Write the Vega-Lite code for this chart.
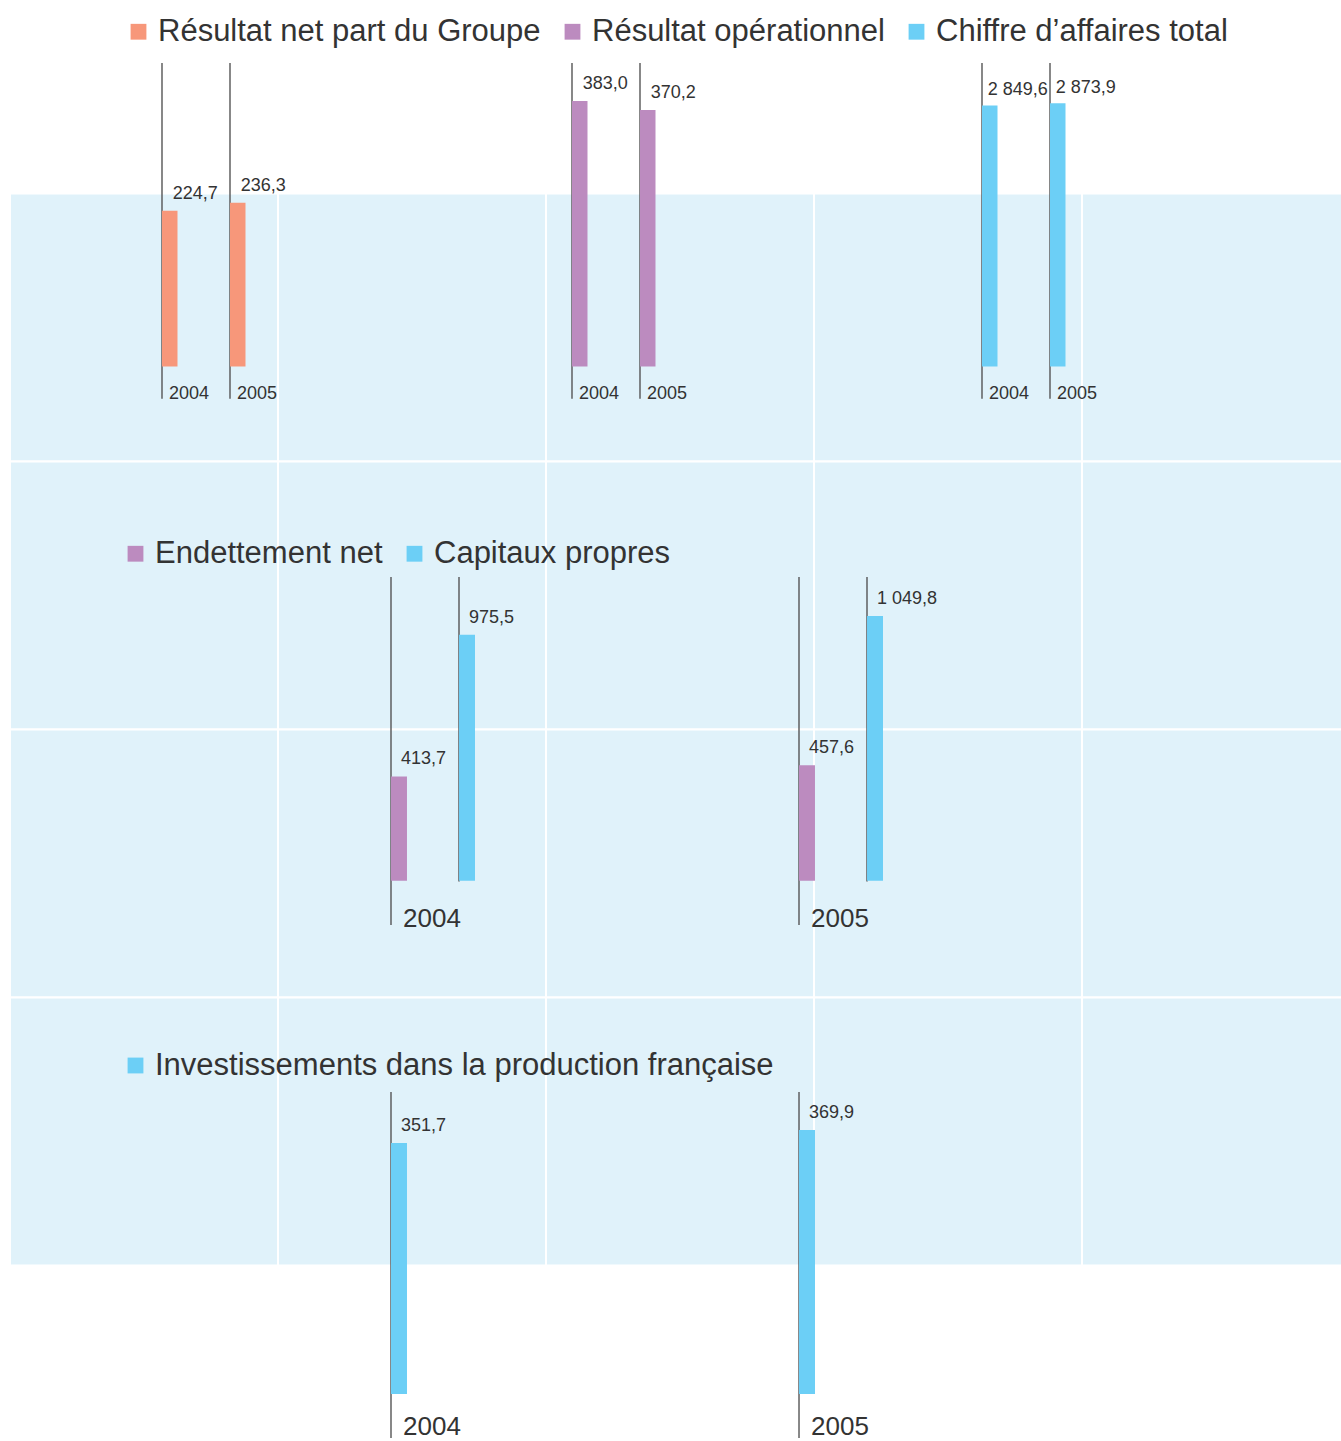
{
  "$schema": "https://vega.github.io/schema/vega-lite/v6.json",
  "width": 1341,
  "height": 1441,
  "autosize": "none",
  "padding": 0,
  "background": "#FFFFFF",
  "config": {
    "view": {"stroke": null},
    "font": "Liberation Sans",
    "locale": {"number": {"decimal": ",", "thousands": "\u00a0", "grouping": [3], "currency": ["", "\u00a0€"]}},
    "legend": {
      "orient": "none",
      "direction": "horizontal",
      "symbolType": "square",
      "symbolSize": 250,
      "symbolStrokeWidth": 0,
      "labelFontSize": 31,
      "labelFont": "Liberation Sans",
      "labelColor": "#333333",
      "labelOffset": 4,
      "columnPadding": 16,
      "padding": 0,
      "labelLimit": 1000
    }
  },
  "datasets": {
    "grid": [
      {"col": 1, "row": 1}, {"col": 2, "row": 1}, {"col": 3, "row": 1}, {"col": 4, "row": 1}, {"col": 5, "row": 1},
      {"col": 1, "row": 2}, {"col": 2, "row": 2}, {"col": 3, "row": 2}, {"col": 4, "row": 2}, {"col": 5, "row": 2},
      {"col": 1, "row": 3}, {"col": 2, "row": 3}, {"col": 3, "row": 3}, {"col": 4, "row": 3}, {"col": 5, "row": 3},
      {"col": 1, "row": 4}, {"col": 2, "row": 4}, {"col": 3, "row": 4}, {"col": 4, "row": 4}, {"col": 5, "row": 4}
    ],
    "s1": [
      {"metric": "Résultat net part du Groupe", "year": "2004", "value": 224.7},
      {"metric": "Résultat net part du Groupe", "year": "2005", "value": 236.3},
      {"metric": "Résultat opérationnel", "year": "2004", "value": 383.0},
      {"metric": "Résultat opérationnel", "year": "2005", "value": 370.2},
      {"metric": "Chiffre d’affaires total", "year": "2004", "value": 2849.6},
      {"metric": "Chiffre d’affaires total", "year": "2005", "value": 2873.9}
    ],
    "s2": [
      {"year": "2004", "metric": "Endettement net", "value": 413.7},
      {"year": "2004", "metric": "Capitaux propres", "value": 975.5},
      {"year": "2005", "metric": "Endettement net", "value": 457.6},
      {"year": "2005", "metric": "Capitaux propres", "value": 1049.8}
    ],
    "s3": [
      {"year": "2004", "metric": "Investissements dans la production française", "value": 351.7},
      {"year": "2005", "metric": "Investissements dans la production française", "value": 369.9}
    ]
  },
  "layer": [
    {
      "data": {"name": "grid"},
      "mark": {"type": "rect", "fill": "#E0F2FA", "stroke": "#FFFFFF", "strokeWidth": 2},
      "encoding": {
        "x": {"field": "col", "type": "ordinal", "scale": {"type": "band", "range": [10, 1350], "paddingInner": 0, "paddingOuter": 0}, "axis": null},
        "y": {"field": "row", "type": "ordinal", "scale": {"type": "band", "range": [193.5, 1265.5], "paddingInner": 0, "paddingOuter": 0}, "axis": null}
      }
    },
    {
      "data": {"name": "s1"},
      "resolve": {"scale": {"y": "independent", "xOffset": "independent"}},
      "layer": [
        {
          "layer": [
            {
              "mark": {"type": "rule", "color": "#555555", "strokeWidth": 1.4},
              "encoding": {
                "x": {"field": "metric", "type": "nominal", "scale": {"type": "band", "domain": ["Résultat net part du Groupe", "Résultat opérationnel", "Chiffre d’affaires total"], "range": [162, 1392], "paddingInner": 0, "paddingOuter": 0}, "axis": null},
                "xOffset": {"field": "year", "type": "nominal", "scale": {"type": "band", "domain": ["2004", "2005"], "range": [0, 68], "paddingInner": 1, "paddingOuter": 0, "align": 0}},
                "y": {"datum": 0, "type": "quantitative", "scale": {"domain": [0, 1], "range": [398.7, 63], "nice": false}, "axis": null},
                "y2": {"datum": 1}
              }
            },
            {
              "mark": {"type": "text", "align": "left", "baseline": "alphabetic", "dx": 7, "fontSize": 18, "color": "#333333"},
              "encoding": {
                "x": {"field": "metric", "type": "nominal", "scale": {"type": "band", "domain": ["Résultat net part du Groupe", "Résultat opérationnel", "Chiffre d’affaires total"], "range": [162, 1392], "paddingInner": 0, "paddingOuter": 0}, "axis": null},
                "xOffset": {"field": "year", "type": "nominal", "scale": {"type": "band", "domain": ["2004", "2005"], "range": [0, 68], "paddingInner": 1, "paddingOuter": 0, "align": 0}},
                "y": {"datum": 0, "type": "quantitative", "scale": {"domain": [0, 1], "range": [398.7, 63], "nice": false}, "axis": null},
                "text": {"field": "year", "type": "nominal"}
              }
            }
          ]
        },
        {
          "transform": [{"filter": {"field": "metric", "oneOf": ["Résultat net part du Groupe", "Résultat opérationnel"]}}],
          "layer": [
            {
              "mark": {"type": "bar"},
              "encoding": {
                "x": {"field": "metric", "type": "nominal", "scale": {"type": "band", "domain": ["Résultat net part du Groupe", "Résultat opérationnel", "Chiffre d’affaires total"], "range": [162, 1392], "paddingInner": 0, "paddingOuter": 0}, "axis": null},
                "xOffset": {"field": "year", "type": "nominal", "scale": {"type": "band", "domain": ["2004", "2005"], "range": [0, 83.5], "paddingInner": 0.772, "paddingOuter": 0, "align": 0}},
                "y": {"field": "value", "type": "quantitative", "scale": {"domain": [0, 383], "range": [366.5, 101.1], "nice": false, "zero": true}, "axis": null},
                "color": {"field": "metric", "type": "nominal", "scale": {"domain": ["Résultat net part du Groupe", "Résultat opérationnel", "Chiffre d’affaires total"], "range": ["#F7977A", "#BC8BBF", "#6CCFF6"]}, "legend": {"title": null, "legendX": 123, "legendY": 16}}
              }
            },
            {
              "mark": {"type": "text", "align": "left", "baseline": "alphabetic", "dx": 3, "dy": -12, "fontSize": 18, "color": "#333333"},
              "encoding": {
                "x": {"field": "metric", "type": "nominal", "scale": {"type": "band", "domain": ["Résultat net part du Groupe", "Résultat opérationnel", "Chiffre d’affaires total"], "range": [162, 1392], "paddingInner": 0, "paddingOuter": 0}, "axis": null},
                "xOffset": {"field": "year", "type": "nominal", "scale": {"type": "band", "domain": ["2004", "2005"], "range": [0, 83.5], "paddingInner": 0.772, "paddingOuter": 0, "align": 0}},
                "y": {"field": "value", "type": "quantitative", "scale": {"domain": [0, 383], "range": [366.5, 101.1], "nice": false, "zero": true}, "axis": null},
                "text": {"field": "value", "type": "quantitative", "format": ",.1f"}
              }
            }
          ]
        },
        {
          "transform": [{"filter": {"field": "metric", "equal": "Chiffre d’affaires total"}}],
          "layer": [
            {
              "mark": {"type": "bar"},
              "encoding": {
                "x": {"field": "metric", "type": "nominal", "scale": {"type": "band", "domain": ["Résultat net part du Groupe", "Résultat opérationnel", "Chiffre d’affaires total"], "range": [162, 1392], "paddingInner": 0, "paddingOuter": 0}, "axis": null},
                "xOffset": {"field": "year", "type": "nominal", "scale": {"type": "band", "domain": ["2004", "2005"], "range": [0, 83.5], "paddingInner": 0.772, "paddingOuter": 0, "align": 0}},
                "y": {"field": "value", "type": "quantitative", "scale": {"domain": [0, 2873.9], "range": [366.5, 103.2], "nice": false, "zero": true}, "axis": null},
                "color": {"field": "metric", "type": "nominal", "scale": {"domain": ["Résultat net part du Groupe", "Résultat opérationnel", "Chiffre d’affaires total"], "range": ["#F7977A", "#BC8BBF", "#6CCFF6"]}, "legend": {"title": null, "legendX": 123, "legendY": 16}}
              }
            },
            {
              "mark": {"type": "text", "align": "left", "baseline": "alphabetic", "dx": -2, "dy": -10, "fontSize": 18, "color": "#333333"},
              "encoding": {
                "x": {"field": "metric", "type": "nominal", "scale": {"type": "band", "domain": ["Résultat net part du Groupe", "Résultat opérationnel", "Chiffre d’affaires total"], "range": [162, 1392], "paddingInner": 0, "paddingOuter": 0}, "axis": null},
                "xOffset": {"field": "year", "type": "nominal", "scale": {"type": "band", "domain": ["2004", "2005"], "range": [0, 83.5], "paddingInner": 0.772, "paddingOuter": 0, "align": 0}},
                "y": {"field": "value", "type": "quantitative", "scale": {"domain": [0, 2873.9], "range": [366.5, 103.2], "nice": false, "zero": true}, "axis": null},
                "text": {"field": "value", "type": "quantitative", "format": ",.1f"}
              }
            }
          ]
        }
      ]
    },
    {
      "data": {"name": "s2"},
      "resolve": {"scale": {"y": "independent", "xOffset": "independent"}},
      "layer": [
        {
          "layer": [
            {
              "transform": [{"filter": {"field": "metric", "equal": "Endettement net"}}],
              "mark": {"type": "rule", "color": "#555555", "strokeWidth": 1.4},
              "encoding": {
                "x": {"field": "year", "type": "nominal", "scale": {"type": "band", "domain": ["2004", "2005"], "range": [391, 1207], "paddingInner": 0, "paddingOuter": 0}, "axis": null},
                "xOffset": {"field": "metric", "type": "nominal", "scale": {"type": "band", "domain": ["Endettement net", "Capitaux propres"], "range": [0, 68], "paddingInner": 1, "paddingOuter": 0, "align": 0}},
                "y": {"datum": -1, "type": "quantitative", "scale": {"domain": [-1, 7], "range": [925, 577], "nice": false, "zero": false}, "axis": null},
                "y2": {"datum": 7}
              }
            },
            {
              "transform": [{"filter": {"field": "metric", "equal": "Capitaux propres"}}],
              "mark": {"type": "rule", "color": "#555555", "strokeWidth": 1.4},
              "encoding": {
                "x": {"field": "year", "type": "nominal", "scale": {"type": "band", "domain": ["2004", "2005"], "range": [391, 1207], "paddingInner": 0, "paddingOuter": 0}, "axis": null},
                "xOffset": {"field": "metric", "type": "nominal", "scale": {"type": "band", "domain": ["Endettement net", "Capitaux propres"], "range": [0, 68], "paddingInner": 1, "paddingOuter": 0, "align": 0}},
                "y": {"datum": 0, "type": "quantitative", "scale": {"domain": [-1, 7], "range": [925, 577], "nice": false, "zero": false}, "axis": null},
                "y2": {"datum": 7}
              }
            },
            {
              "transform": [{"filter": {"field": "metric", "equal": "Endettement net"}}],
              "mark": {"type": "text", "align": "left", "baseline": "alphabetic", "dx": 12, "dy": 1.5, "fontSize": 26, "color": "#333333"},
              "encoding": {
                "x": {"field": "year", "type": "nominal", "scale": {"type": "band", "domain": ["2004", "2005"], "range": [391, 1207], "paddingInner": 0, "paddingOuter": 0}, "axis": null},
                "xOffset": {"field": "metric", "type": "nominal", "scale": {"type": "band", "domain": ["Endettement net", "Capitaux propres"], "range": [0, 68], "paddingInner": 1, "paddingOuter": 0, "align": 0}},
                "y": {"datum": -1, "type": "quantitative", "scale": {"domain": [-1, 7], "range": [925, 577], "nice": false, "zero": false}, "axis": null},
                "text": {"field": "year", "type": "nominal"}
              }
            }
          ]
        },
        {
          "layer": [
            {
              "mark": {"type": "bar"},
              "encoding": {
                "x": {"field": "year", "type": "nominal", "scale": {"type": "band", "domain": ["2004", "2005"], "range": [391, 1207], "paddingInner": 0, "paddingOuter": 0}, "axis": null},
                "xOffset": {"field": "metric", "type": "nominal", "scale": {"type": "band", "domain": ["Endettement net", "Capitaux propres"], "range": [0, 84], "paddingInner": 0.765, "paddingOuter": 0, "align": 0}},
                "y": {"field": "value", "type": "quantitative", "scale": {"domain": [0, 1049.8], "range": [880.7, 616], "nice": false, "zero": true}, "axis": null},
                "color": {"field": "metric", "type": "nominal", "scale": {"domain": ["Endettement net", "Capitaux propres"], "range": ["#BC8BBF", "#6CCFF6"]}, "legend": {"title": null, "legendX": 120, "legendY": 538}}
              }
            },
            {
              "mark": {"type": "text", "align": "left", "baseline": "alphabetic", "dx": 2, "dy": -12, "fontSize": 18, "color": "#333333"},
              "encoding": {
                "x": {"field": "year", "type": "nominal", "scale": {"type": "band", "domain": ["2004", "2005"], "range": [391, 1207], "paddingInner": 0, "paddingOuter": 0}, "axis": null},
                "xOffset": {"field": "metric", "type": "nominal", "scale": {"type": "band", "domain": ["Endettement net", "Capitaux propres"], "range": [0, 84], "paddingInner": 0.765, "paddingOuter": 0, "align": 0}},
                "y": {"field": "value", "type": "quantitative", "scale": {"domain": [0, 1049.8], "range": [880.7, 616], "nice": false, "zero": true}, "axis": null},
                "text": {"field": "value", "type": "quantitative", "format": ",.1f"}
              }
            }
          ]
        }
      ]
    },
    {
      "data": {"name": "s3"},
      "resolve": {"scale": {"y": "independent"}},
      "layer": [
        {
          "layer": [
            {
              "mark": {"type": "rule", "color": "#555555", "strokeWidth": 1.4},
              "encoding": {
                "x": {"field": "year", "type": "nominal", "bandPosition": 0, "scale": {"type": "band", "domain": ["2004", "2005"], "range": [391, 815], "paddingInner": 0.9608, "paddingOuter": 0, "align": 0}, "axis": null},
                "y": {"datum": 0, "type": "quantitative", "scale": {"domain": [0, 1], "range": [1438, 1092], "nice": false}, "axis": null},
                "y2": {"datum": 1}
              }
            },
            {
              "mark": {"type": "text", "align": "left", "baseline": "alphabetic", "dx": 12, "dy": -3, "fontSize": 26, "color": "#333333"},
              "encoding": {
                "x": {"field": "year", "type": "nominal", "bandPosition": 0, "scale": {"type": "band", "domain": ["2004", "2005"], "range": [391, 815], "paddingInner": 0.9608, "paddingOuter": 0, "align": 0}, "axis": null},
                "y": {"datum": 0, "type": "quantitative", "scale": {"domain": [0, 1], "range": [1438, 1092], "nice": false}, "axis": null},
                "text": {"field": "year", "type": "nominal"}
              }
            }
          ]
        },
        {
          "layer": [
            {
              "mark": {"type": "bar"},
              "encoding": {
                "x": {"field": "year", "type": "nominal", "scale": {"type": "band", "domain": ["2004", "2005"], "range": [391, 815], "paddingInner": 0.9608, "paddingOuter": 0, "align": 0}, "axis": null},
                "y": {"field": "value", "type": "quantitative", "scale": {"domain": [0, 369.9], "range": [1394, 1130], "nice": false, "zero": true}, "axis": null},
                "color": {"field": "metric", "type": "nominal", "scale": {"domain": ["Investissements dans la production française"], "range": ["#6CCFF6"]}, "legend": {"title": null, "legendX": 120, "legendY": 1050}}
              }
            },
            {
              "mark": {"type": "text", "align": "left", "baseline": "alphabetic", "dx": 2, "dy": -12, "fontSize": 18, "color": "#333333"},
              "encoding": {
                "x": {"field": "year", "type": "nominal", "scale": {"type": "band", "domain": ["2004", "2005"], "range": [391, 815], "paddingInner": 0.9608, "paddingOuter": 0, "align": 0}, "axis": null},
                "y": {"field": "value", "type": "quantitative", "scale": {"domain": [0, 369.9], "range": [1394, 1130], "nice": false, "zero": true}, "axis": null},
                "text": {"field": "value", "type": "quantitative", "format": ",.1f"}
              }
            }
          ]
        }
      ]
    }
  ],
  "resolve": {"scale": {"x": "independent", "y": "independent", "color": "independent", "xOffset": "independent"}}
}
